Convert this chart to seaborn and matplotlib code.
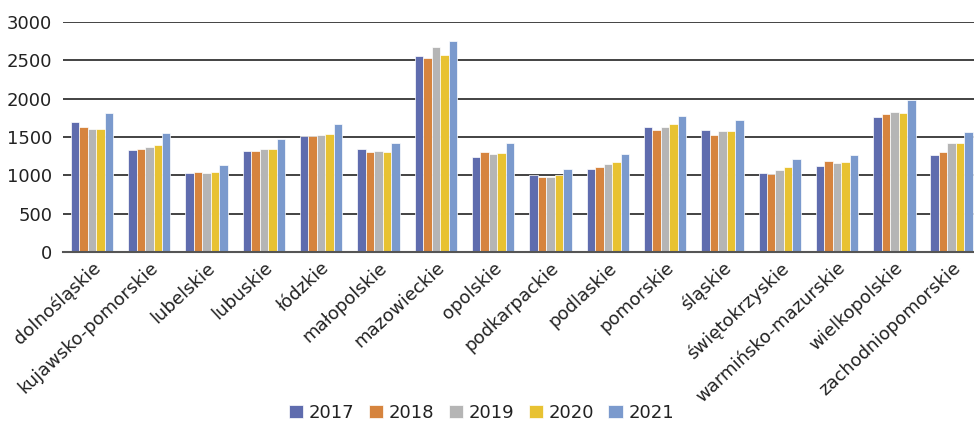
import matplotlib
matplotlib.use("Agg")
import matplotlib.pyplot as plt
import seaborn as sns
import pandas as pd

regions = ["dolnośląskie", "kujawsko-pomorskie", "lubelskie", "lubuskie", "łódzkie",
           "małopolskie", "mazowieckie", "opolskie", "podkarpackie", "podlaskie",
           "pomorskie", "śląskie", "świętokrzyskie", "warmińsko-mazurskie",
           "wielkopolskie", "zachodniopomorskie"]
years = ["2017", "2018", "2019", "2020", "2021"]

v2017 = [1699, 1326, 1034, 1313, 1509, 1339, 2552, 1235, 1004, 1078, 1630, 1595, 1026, 1117, 1765, 1265]
v2018 = [1630, 1339, 1039, 1313, 1509, 1304, 2530, 1308, 978, 1113, 1591, 1522, 1021, 1182, 1795, 1304]
v2019 = [1604, 1369, 1026, 1339, 1526, 1317, 2673, 1274, 982, 1148, 1630, 1578, 1065, 1161, 1830, 1421]
v2020 = [1600, 1395, 1039, 1347, 1535, 1304, 2569, 1291, 1008, 1174, 1665, 1574, 1104, 1174, 1813, 1417]
v2021 = [1813, 1552, 1135, 1474, 1665, 1417, 2747, 1421, 1078, 1278, 1769, 1717, 1209, 1265, 1978, 1569]

colors = ["#5f6cae", "#d6843e", "#b5b5b5", "#e8c232", "#7b9acd"]

series = [v2017, v2018, v2019, v2020, v2021]
df = pd.DataFrame({
    "region": [r for _ in years for r in regions],
    "year": [y for y in years for _ in regions],
    "value": [v for s in series for v in s],
})

sns.set_theme(style="white")
plt.rcParams["font.family"] = ["DejaVu Sans"]

fig = plt.figure(figsize=(9.74, 4.24), dpi=100)
ax = fig.add_axes([0.065, 0.406, 0.9415, 0.542])

sns.barplot(data=df, x="region", y="value", hue="year", order=regions,
            hue_order=years, palette=colors, saturation=1, width=0.74, ax=ax,
            edgecolor="white", linewidth=0.5, errorbar=None, legend=True)

ax.set_ylim(0, 3000)
ax.set_xlim(-0.5, 15.5)
ax.set_yticks(range(0, 3001, 500))
ax.yaxis.grid(True, color="#222222", linewidth=1.2)
ax.set_axisbelow(True)
for s in ["top", "right", "left"]:
    ax.spines[s].set_visible(False)
ax.spines["bottom"].set_color("#555555")
ax.spines["bottom"].set_linewidth(1.5)
ax.set_xlabel("")
ax.set_ylabel("")
ax.tick_params(axis="y", labelsize=13, colors="#222222", length=0, pad=8)
ax.tick_params(axis="x", labelsize=13, colors="#222222", length=0, pad=5)
for lab in ax.get_xticklabels():
    lab.set_rotation(43)
    lab.set_ha("right")
    lab.set_rotation_mode("anchor")

leg = ax.legend(loc="center", bbox_to_anchor=((481 - 63) / 917, -(413 - 252) / 230),
                ncol=5, frameon=False, fontsize=13, handlelength=0.8,
                handleheight=0.8, handletextpad=0.3, columnspacing=0.8)
for t in leg.get_texts():
    t.set_color("#222222")

fig.savefig("out.png", dpi=100)
